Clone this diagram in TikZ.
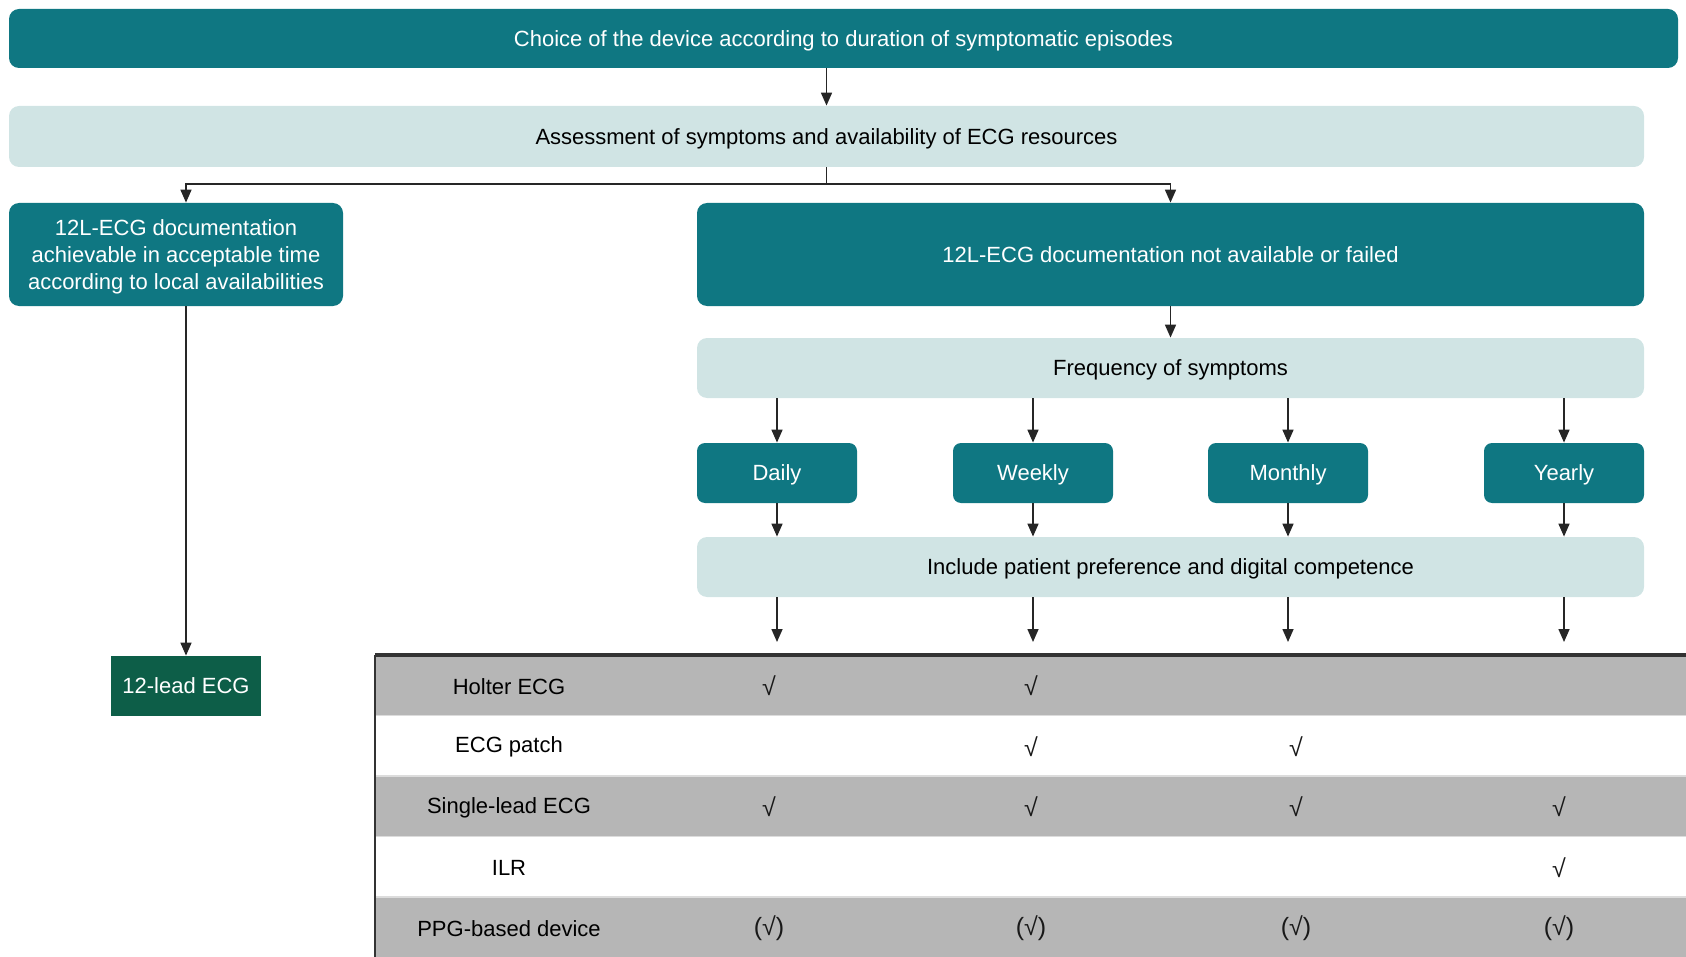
\documentclass[tikz,border=0pt]{standalone}
\usepackage{fontspec}
\setmainfont{Liberation Sans}
\usetikzlibrary{arrows.meta,calc}
\definecolor{tealc}{HTML}{0F7782}
\definecolor{lightc}{HTML}{D0E4E4}
\definecolor{rowgray}{HTML}{B6B6B6}
\definecolor{dkgreen}{HTML}{0D5E48}
\definecolor{sepgray}{HTML}{DCDCDC}
\begin{document}
\begin{tikzpicture}[x=0.5pt,y=-0.5pt,
  font=\fontsize{11}{13.5}\selectfont,
  darkbox/.style={fill=tealc, text=white, rounded corners=5pt, inner sep=0pt, align=center, text depth=0pt},
  lbox/.style={fill=lightc, text=black, rounded corners=5pt, inner sep=0pt, align=center, text depth=0pt},
  freqbox/.style={darkbox, rounded corners=4pt, minimum width=80pt, minimum height=30pt},
  greenbox/.style={fill=dkgreen, text=white, inner sep=0pt, minimum width=75pt, minimum height=30pt, text depth=0pt},
  arr/.style={-{Triangle[length=6.5pt,width=5.5pt]}, line width=0.8pt, draw=black!85},
  ln/.style={line width=0.8pt, draw=black!85},
  rowlbl/.style={text=black, inner sep=0pt},
  chk/.style={text=black!90, inner sep=0pt, font=\fontsize{12.5}{14}\selectfont}]
\useasboundingbox (0,0) rectangle (1686,957);

% main flow nodes
\node[darkbox, minimum width=834.5pt, minimum height=29.5pt] (top) at (843.5,38.5)
  {Choice of the device according to duration of symptomatic episodes};
\node[lbox, minimum width=817.5pt, minimum height=30.5pt] (assess) at (826.5,136.5)
  {Assessment of symptoms and availability of ECG resources};
\node[darkbox, minimum width=167pt, minimum height=51.5pt] (left) at (176,254.5)
  {12L-ECG documentation\\achievable in acceptable time\\according to local availabilities};
\node[darkbox, minimum width=473.5pt, minimum height=51.5pt] (right) at (1170.5,254.5)
  {12L-ECG documentation not available or failed};
\node[lbox, minimum width=473.5pt, minimum height=30pt] (freq) at (1170.5,368)
  {Frequency of symptoms};
\node[freqbox] (daily) at (777,473) {Daily};
\node[freqbox] (weekly) at (1033,473) {Weekly};
\node[freqbox] (monthly) at (1288,473) {Monthly};
\node[freqbox] (yearly) at (1564,473) {Yearly};
\node[lbox, minimum width=473.5pt, minimum height=30pt] (incl) at (1170.5,567)
  {Include patient preference and digital competence};
\node[greenbox] (ecg12) at (186,686) {12-lead ECG};

% table
\fill[rowgray] (375,655) rectangle (1686,715.5);
\fill[rowgray] (375,776) rectangle (1686,836.5);
\fill[rowgray] (375,897) rectangle (1686,957);
\draw[sepgray, line width=0.6pt] (375,715.5) -- (1686,715.5);
\draw[sepgray, line width=0.6pt] (375,776) -- (1686,776);
\draw[sepgray, line width=0.6pt] (375,836.5) -- (1686,836.5);
\draw[sepgray, line width=0.6pt] (375,897) -- (1686,897);
\draw[black!80, line width=1.6pt] (375,655) -- (1686,655);
\draw[black!80, line width=0.9pt] (375,655) -- (375,957);

\node[rowlbl] (r1) at (509,686.5) {Holter ECG};
\node[rowlbl] (r2) at (509,747) {ECG patch};
\node[rowlbl] (r3) at (509,807.5) {Single-lead ECG};
\node[rowlbl] (r4) at (509,868) {ILR};
\node[rowlbl] (r5) at (509,928.5) {PPG-based device};

% check marks
\node[chk] (c11) at (769,686) {√};
\node[chk] (c12) at (1031,686) {√};
\node[chk] (c22) at (1031,746.5) {√};
\node[chk] (c23) at (1296,746.5) {√};
\node[chk] (c31) at (769,807) {√};
\node[chk] (c32) at (1031,807) {√};
\node[chk] (c33) at (1296,807) {√};
\node[chk] (c34) at (1559,807) {√};
\node[chk] (c44) at (1559,867.5) {√};
\node[chk] (c51) at (769,928) {(√)};
\node[chk] (c52) at (1031,928) {(√)};
\node[chk] (c53) at (1296,928) {(√)};
\node[chk] (c54) at (1559,928) {(√)};

% connectors
\coordinate (br) at (826.5,184);
\draw[arr] (top.south -| assess.north) -- (assess.north);
\draw[ln] (assess.south) -- (br);
\draw[arr] (br) -| ([xshift=5pt]left.north);
\draw[arr] (br) -| (right.north);
\draw[arr] ([xshift=5pt]left.south) -- (ecg12.north);
\draw[arr] (right.south) -- (freq.north);
\foreach \n in {daily,weekly,monthly,yearly}{
  \draw[arr] (freq.south -| \n.north) -- (\n.north);
  \draw[arr] (\n.south) -- (\n.south |- incl.north);
  \coordinate (t\n) at (\n |- 0,642);
  \draw[arr] (incl.south -| \n.south) -- (t\n);
}
\end{tikzpicture}
\end{document}
